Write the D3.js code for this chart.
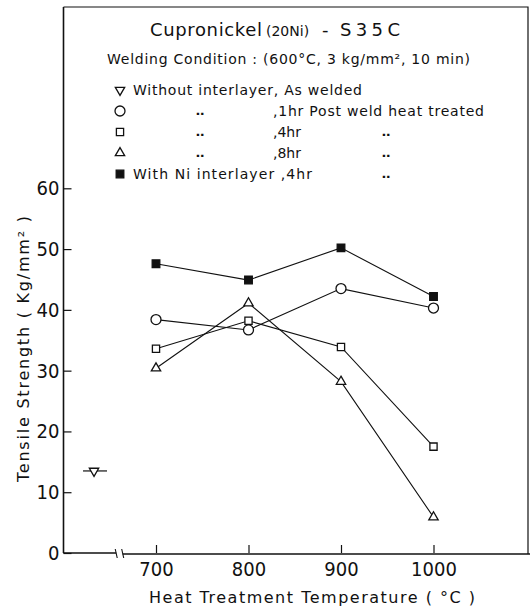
<!DOCTYPE html>
<html>
<head>
<meta charset="utf-8">
<script src="https://cdn.jsdelivr.net/npm/d3@7"></script>
<style>
  html, body { margin: 0; padding: 0; background: #fff; }
  svg { display: block; }
  text { fill: #111; }
</style>
</head>
<body>
<svg id="chart" width="530" height="611"></svg>
<script>
// ---- data ----
const temps = [700, 800, 900, 1000];
const niInterlayer4hr = [47.6, 44.9, 50.2, 42.2];
const pwht1hr = [38.4, 36.7, 43.5, 40.3];
const pwht4hr = [33.6, 38.2, 33.9, 17.5];
const pwht8hr = [30.4, 41.1, 28.2, 5.9];
const asWeldedTemp = [633];
const asWeldedValue = [13.5];
const yTickValues = [0, 10, 20, 30, 40, 50, 60];
const xTickValues = [700, 800, 900, 1000];
const titleMain = "Cupronickel";
const titleSub = "(20Ni)";
const titleDash = "-";
const titleEnd = "S35C";
const conditionText = "Welding Condition : (600\u00B0C, 3 kg/mm\u00B2, 10 min)";
const legendCol1 = ["Without  interlayer, As welded", "\u2025", "\u2025", "\u2025", "With Ni interlayer ,4hr"];
const legendCol2 = ["", ",1hr Post weld heat treated", ",4hr", ",8hr", ""];
const legendCol3 = ["", "", "\u2025", "\u2025", "\u2025"];
const legendSymbols = ["tridown", "circle", "square", "triangle", "filled"];
const xTitle = "Heat  Treatment  Temperature ( \u00B0C )";
const yTitle = "Tensile  Strength ( Kg/mm\u00B2 )";

// ---- layout ----
const svg = d3.select("#chart");
const x = d3.scaleLinear().domain([600, 1100]).range([63.5, 526]);
const y = d3.scaleLinear().domain([0, 60]).range([553, 188.3]);
const frameTop = 7, frameRight = 528;
const font = "'DejaVu Sans', sans-serif";
const tickFont = "'Liberation Sans Narrow', 'DejaVu Sans Condensed', 'Liberation Sans', sans-serif";

// frame (top and right)
svg.append("path")
  .attr("d", `M${x(600)},${frameTop}H${frameRight}V${y(0) + 1}`)
  .attr("fill", "none").attr("stroke", "#111").attr("stroke-width", 1.2);
// y axis line
svg.append("line").attr("x1", x(600)).attr("x2", x(600))
  .attr("y1", frameTop).attr("y2", y(0))
  .attr("stroke", "#111").attr("stroke-width", 1.6);
// x axis line with break
const brk = [657, 664];
svg.append("line").attr("x1", x(600)).attr("x2", x(brk[0])).attr("y1", y(0)).attr("y2", y(0))
  .attr("stroke", "#111").attr("stroke-width", 1.6);
svg.append("line").attr("x1", x(brk[1])).attr("x2", 530).attr("y1", y(0) + 1).attr("y2", y(0) + 1)
  .attr("stroke", "#111").attr("stroke-width", 1.6);
brk.forEach(b => {
  svg.append("line").attr("x1", x(b) - 1).attr("x2", x(b) + 1)
    .attr("y1", y(0) - 4).attr("y2", y(0) + 5)
    .attr("stroke", "#111").attr("stroke-width", 1.1);
});

// axes (ticks point inward)
const yAxis = d3.axisLeft(y).tickValues(yTickValues).tickSize(-8).tickPadding(4);
const gy = svg.append("g").attr("transform", `translate(${x(600)},0)`).call(yAxis);
gy.select(".domain").remove();
gy.selectAll("line").attr("stroke", "#111").attr("stroke-width", 1.2);
gy.selectAll("text").attr("font-family", tickFont).attr("font-size", 20).attr("fill", "#111");

const xAxis = d3.axisBottom(x).tickValues(xTickValues).tickSize(-8).tickPadding(9).tickFormat(d3.format("d"));
const gx = svg.append("g").attr("transform", `translate(0,${y(0)})`).call(xAxis);
gx.select(".domain").remove();
gx.selectAll("line").attr("stroke", "#111").attr("stroke-width", 1.2);
gx.selectAll("text").attr("font-family", tickFont).attr("font-size", 20).attr("fill", "#111");

// axis titles
svg.append("text").attr("x", 149).attr("y", 603)
  .attr("font-family", font).attr("font-size", 16)
  .attr("textLength", 326).attr("lengthAdjust", "spacing")
  .text(xTitle);
svg.append("text")
  .attr("transform", `translate(29,349) rotate(-90)`)
  .attr("text-anchor", "middle")
  .attr("font-family", font).attr("font-size", 16)
  .attr("textLength", 266).attr("lengthAdjust", "spacing")
  .text(yTitle);

// title
svg.append("text").attr("x", 150).attr("y", 36).attr("font-family", font).attr("font-size", 18)
  .attr("textLength", 112).attr("lengthAdjust", "spacing").text(titleMain);
svg.append("text").attr("x", 266).attr("y", 36).attr("font-family", font).attr("font-size", 14)
  .text(titleSub);
svg.append("text").attr("x", 322).attr("y", 36).attr("font-family", font).attr("font-size", 18)
  .text(titleDash);
svg.append("text").attr("x", 340).attr("y", 36).attr("font-family", font).attr("font-size", 18)
  .attr("textLength", 60).attr("lengthAdjust", "spacing").text(titleEnd);
svg.append("text").attr("x", 107).attr("y", 64).attr("font-family", font).attr("font-size", 14)
  .attr("textLength", 363).attr("lengthAdjust", "spacing").text(conditionText);

// symbols
const symbolPath = {
  circle: d3.symbol().type(d3.symbolCircle).size(Math.PI * 25)(),
  square: d3.symbol().type(d3.symbolSquare).size(52)(),
  filled: d3.symbol().type(d3.symbolSquare).size(58)(),
  triangle: d3.symbol().type(d3.symbolTriangle).size(38)(),
  tridown: d3.symbol().type(d3.symbolTriangle).size(38)()
};
function drawSymbol(g, type, cx, cy) {
  const p = g.append("path").attr("d", symbolPath[type])
    .attr("stroke", "#111").attr("stroke-width", 1.3)
    .attr("fill", type === "filled" ? "#111" : "#fff");
  if (type === "tridown") p.attr("transform", `translate(${cx},${cy}) rotate(180)`);
  else p.attr("transform", `translate(${cx},${cy})`);
  return p;
}

// legend
const legendBase = [95, 116, 137, 158, 179];
const lg = svg.append("g");
legendSymbols.forEach((s, i) => {
  drawSymbol(lg, s, 120, legendBase[i] - 5);
  const t1 = legendCol1[i];
  if (t1 === "\u2025") {
    lg.append("text").attr("x", 200).attr("y", legendBase[i] - 1).attr("text-anchor", "middle")
      .attr("font-family", font).attr("font-size", 13).attr("font-weight", "bold").text(t1);
  } else if (i === 0) {
    lg.append("text").attr("x", 133).attr("y", legendBase[i]).attr("font-family", font).attr("font-size", 14)
      .attr("textLength", 229).attr("lengthAdjust", "spacing").text(t1);
  } else {
    lg.append("text").attr("x", 133).attr("y", legendBase[i]).attr("font-family", font).attr("font-size", 14)
      .attr("textLength", 179).attr("lengthAdjust", "spacing").text(t1);
  }
  if (legendCol2[i]) {
    const t = lg.append("text").attr("x", 273).attr("y", legendBase[i]).attr("font-family", font).attr("font-size", 14)
      .text(legendCol2[i]);
    if (i === 1) t.attr("textLength", 211).attr("lengthAdjust", "spacing");
  }
  if (legendCol3[i]) {
    lg.append("text").attr("x", 386).attr("y", legendBase[i] - 1).attr("text-anchor", "middle")
      .attr("font-family", font).attr("font-size", 13).attr("font-weight", "bold").text(legendCol3[i]);
  }
});

// series
const series = [
  { vals: niInterlayer4hr, sym: "filled" },
  { vals: pwht1hr, sym: "circle" },
  { vals: pwht4hr, sym: "square" },
  { vals: pwht8hr, sym: "triangle" }
];
const line = d3.line().x((d, i) => x(temps[i])).y(d => y(d));
const plot = svg.append("g");
series.forEach(s => {
  plot.append("path").attr("d", line(s.vals)).attr("fill", "none")
    .attr("stroke", "#111").attr("stroke-width", 1.1);
});
series.forEach(s => {
  s.vals.forEach((v, i) => drawSymbol(plot, s.sym, x(temps[i]), y(v)));
});

// as welded point
asWeldedValue.forEach((v, i) => {
  const cx = x(asWeldedTemp[i]), cy = y(v);
  plot.append("line").attr("x1", cx - 11).attr("x2", cx + 13).attr("y1", cy).attr("y2", cy)
    .attr("stroke", "#111").attr("stroke-width", 1.2);
  drawSymbol(plot, "tridown", cx, cy);
});
</script>
</body>
</html>
